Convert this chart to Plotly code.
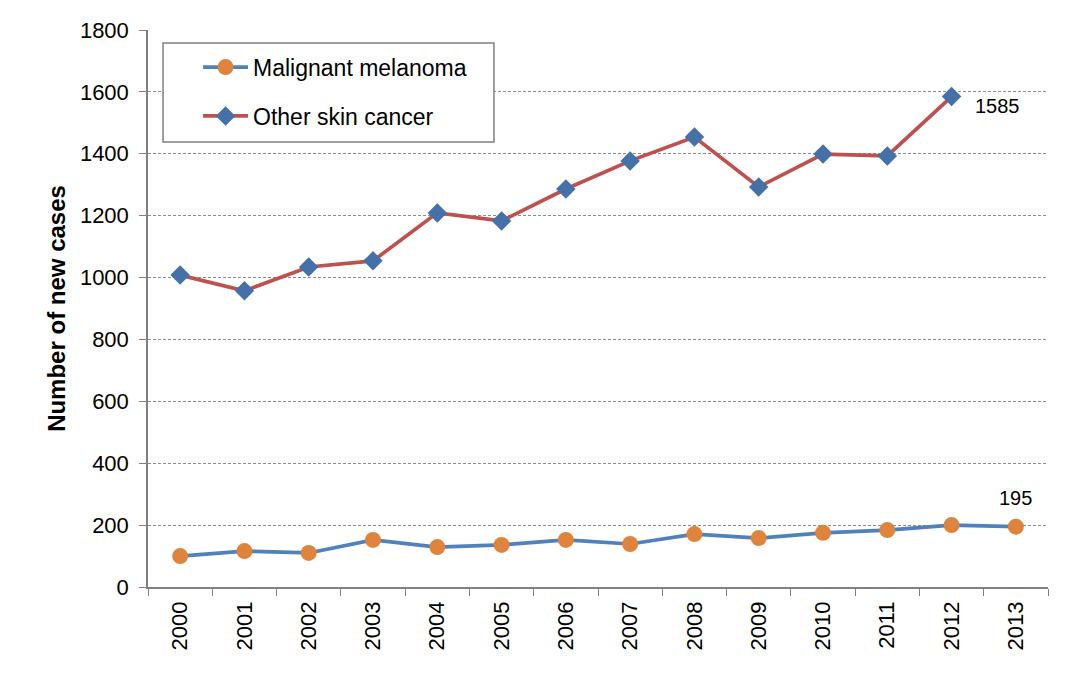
"""
Nuevos casos de cáncer de piel por año (2000-2013)
"""
import plotly.graph_objects as go

years = [str(y) for y in range(2000, 2014)]
melanoma = [100, 116, 110, 152, 129, 136, 152, 139, 171, 158, 175, 184, 200, 195]
other_skin = [1008, 957, 1034, 1054, 1209, 1183, 1286, 1377, 1454, 1293, 1399, 1393, 1585, None]
y_ticks = [0, 200, 400, 600, 800, 1000, 1200, 1400, 1600, 1800]

FONT = "Liberation Sans, Arial, sans-serif"


def crear_figura():
    fig = go.Figure()

    fig.add_trace(go.Scatter(
        x=years, y=melanoma, name="Malignant melanoma",
        mode="lines+markers", legendgroup="m",
        line=dict(color="#4F81BD", width=3.7),
        marker=dict(symbol="circle", size=16, color="#DE843C"),
    ))
    fig.add_trace(go.Scatter(
        x=years, y=other_skin, name="Other skin cancer",
        mode="lines+markers", legendgroup="o",
        line=dict(color="#C0504D", width=3.7),
        marker=dict(symbol="diamond", size=15, color="#4472A8"),
    ))

    # etiquetas de los últimos valores (x como índice de categoría)
    fig.add_annotation(x=12, y=other_skin[12], text=str(other_skin[12]),
                       showarrow=False, xanchor="left", yanchor="middle",
                       xshift=21, yshift=-9, font=dict(size=20, color="black"))
    fig.add_annotation(x=13, y=melanoma[13], text=str(melanoma[13]),
                       showarrow=False, xanchor="center", yanchor="bottom",
                       yshift=16, font=dict(size=20, color="black"))

    # caja de la leyenda dibujada aparte para poder darle más aire
    fig.add_shape(type="rect", xref="paper", yref="paper",
                  x0=0.0167, x1=0.3844, y0=0.799, y1=0.9767,
                  line=dict(color="#808080", width=1.5), fillcolor="white",
                  layer="above")

    # el body del html tiene 8px de margen, se compensa aquí
    fig.update_layout(
        width=1076, height=685,
        margin=dict(l=140, r=36, t=22, b=106),
        plot_bgcolor="white", paper_bgcolor="white",
        font=dict(family=FONT, size=22, color="black"),
        showlegend=True,
        legend=dict(
            x=0.0556, y=0.972, xanchor="left", yanchor="top",
            borderwidth=0, bgcolor="rgba(0,0,0,0)",
            font=dict(size=23), itemwidth=45, tracegroupgap=16,
        ),
    )
    fig.update_xaxes(
        type="category", tickson="boundaries", range=[-0.5, 13.5],
        ticks="outside", ticklen=7, tickcolor="#808080",
        showline=True, linecolor="#808080", linewidth=1.5,
        tickangle=-90, showgrid=False, automargin=False,
        tickfont=dict(size=22), ticklabelstandoff=4,
    )
    fig.update_yaxes(
        range=[0, 1800], tickvals=y_ticks,
        ticks="outside", ticklen=7, tickcolor="#808080",
        showline=True, linecolor="#808080", linewidth=1.5,
        showgrid=True, gridcolor="#8C8C8C", gridwidth=1, griddash="3px,2px",
        zeroline=False, automargin=False,
        tickfont=dict(size=22), ticklabelstandoff=6,
        title=dict(text="<b>Number of new cases</b>", font=dict(size=24), standoff=7),
    )
    return fig


def main():
    fig = crear_figura()
    fig.write_html("out.html")


if __name__ == "__main__":
    main()
